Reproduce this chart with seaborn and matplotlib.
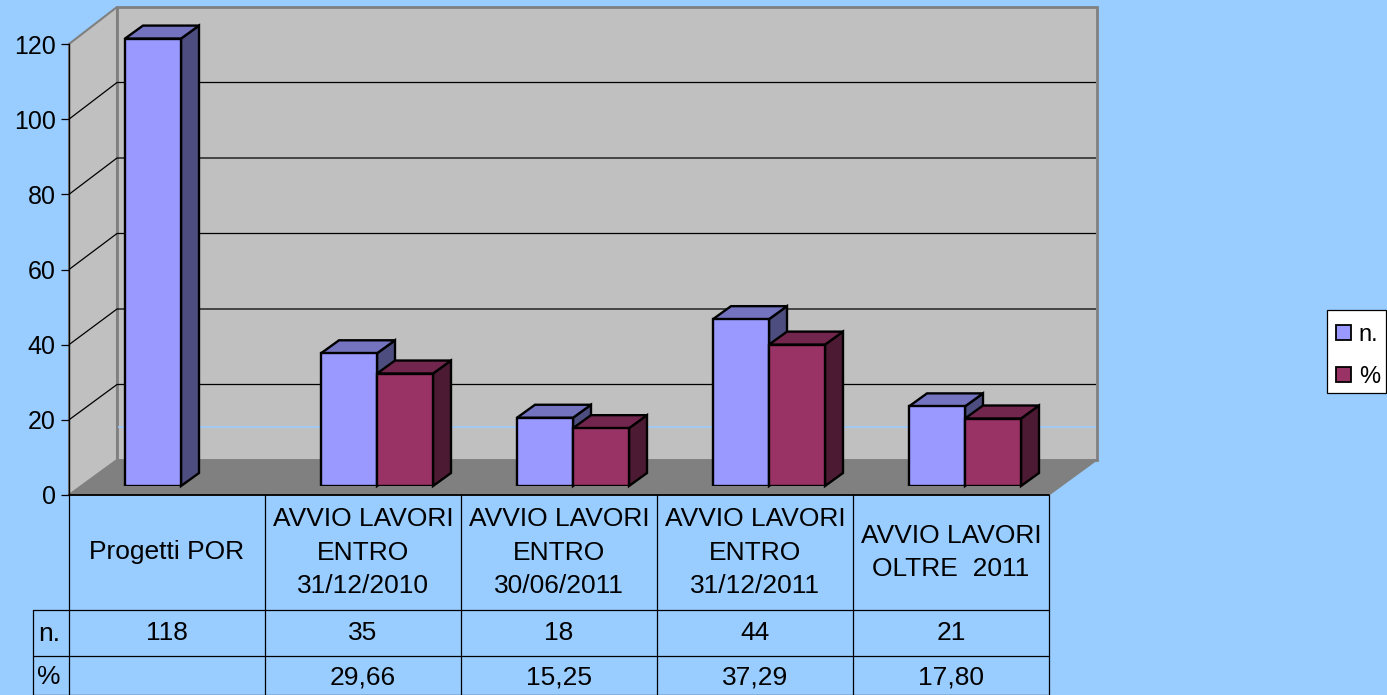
import numpy as np
import pandas as pd
import matplotlib.pyplot as plt
import seaborn as sns
from matplotlib.patches import Polygon, Patch, Rectangle
from matplotlib.transforms import Affine2D

categories = ['Progetti POR', 'AVVIO LAVORI\nENTRO\n31/12/2010', 'AVVIO LAVORI\nENTRO\n30/06/2011',
              'AVVIO LAVORI\nENTRO\n31/12/2011', 'AVVIO LAVORI\nOLTRE  2011']
n_values = [118, 35, 18, 44, 21]
pct_values = [np.nan, 29.66, 15.25, 37.29, 17.80]
n_labels = ['118', '35', '18', '44', '21']
pct_labels = ['', '29,66', '15,25', '37,29', '17,80']
tick_values = [0, 20, 40, 60, 80, 100, 120]
series_names = ['n.', '%']

W, H = 1387, 695
BG = '#99CCFF'
N_COL, PCT_COL = '#9999FF', '#993366'
FS = 19

# geometria in pixel del finto 3D
X0, X1 = 69, 1049
Y0, Y1 = 495, 44
WALL_DX = 48
WALL_Y0, WALL_Y1 = 460, 7
BAR_DX, BAR_DY = 14, 9
BAR_SPAN = 455  # le barre hanno una scala un po' piu' alta dell'asse
DEPTH_X, DEPTH_Y = 18, 13

sns.set_theme(style='white')
plt.rcParams['font.family'] = ['Liberation Sans', 'DejaVu Sans']

df = pd.DataFrame({
    'cat': categories * 2,
    'serie': [series_names[0]] * 5 + [series_names[1]] * 5,
    'val': n_values + pct_values,
})

fig = plt.figure(figsize=(W / 100, H / 100), dpi=100, facecolor=BG)


def rect(left, top, right, bottom):
    return [left / W, 1 - bottom / H, (right - left) / W, (bottom - top) / H]


# sfondo: pareti, pavimento e tabella in coordinate pixel
bg = fig.add_axes([0, 0, 1, 1], zorder=0)
bg.set_xlim(0, W)
bg.set_ylim(H, 0)
bg.axis('off')

wx0, wx1 = X0 + WALL_DX, X1 + WALL_DX
wy0, wy1 = WALL_Y0, WALL_Y1
GREY = '#808080'
bg.add_patch(Polygon([(wx0, wy1), (wx1, wy1), (wx1, wy0), (wx0, wy0)], fc='#C0C0C0', ec=GREY, lw=2))
bg.add_patch(Polygon([(X0, Y1), (wx0, wy1), (wx0, wy0), (X0, Y0)], fc='#C0C0C0', ec=GREY, lw=1.5))
bg.add_patch(Polygon([(X0, Y0), (wx0, wy0), (wx1, wy0), (X1, Y0)], fc=GREY, ec=GREY, lw=0.8))
bg.plot([wx0 + 1, wx1 - 1], [427, 427], color=BG, lw=1.1, solid_capstyle='butt')

for v in tick_values[1:-1]:
    y = Y0 - v * (Y0 - Y1) / 120
    y_back = wy0 - v * (wy0 - wy1) / 120
    bg.plot([X0, wx0, wx1 - 1], [y, y_back, y_back], color='black', lw=0.9, solid_capstyle='butt')

# tabella
col_w = (X1 - X0) / 5
edges = [X0 + i * col_w for i in range(6)]
for x in edges:
    bg.plot([x, x], [Y0, H], color='black', lw=0.9)
bg.plot([X0, X1], [Y0, Y0], color='black', lw=1.3)
bg.plot([33, X1], [610, 610], color='black', lw=0.9)
bg.plot([33, X1], [656, 656], color='black', lw=0.9)
bg.plot([33, 33], [610, H], color='black', lw=0.9)
bg.plot([33, X1], [H - 0.5, H - 0.5], color='black', lw=0.9)

for i, cat in enumerate(categories):
    cx = (edges[i] + edges[i + 1]) / 2
    bg.text(cx, 552.5, cat, ha='center', va='center', fontsize=FS, color='black', linespacing=1.5, multialignment='center')
    bg.text(cx, 633, n_labels[i], ha='center', va='center', fontsize=FS, color='black')
    bg.text(cx, 677, pct_labels[i], ha='center', va='center', fontsize=FS, color='black')
bg.text(49, 634, series_names[0], ha='center', va='center', fontsize=FS, color='black')
bg.text(49, 677, series_names[1], ha='center', va='center', fontsize=FS, color='black')

# riquadro della legenda
bg.add_patch(Rectangle((1327, 310), 59, 83, fc='white', ec='black', lw=0.9))

# asse y sul piano frontale
ax = fig.add_axes(rect(X0, Y1, X1, Y0), zorder=1)
ax.patch.set_visible(False)
ax.set_xlim(0, 1)
ax.set_ylim(0, 120)
ax.set_xticks([])
ax.set_yticks(tick_values)
ax.tick_params(axis='y', labelsize=18, length=6, width=0.9, pad=3.5, left=True, labelcolor='black', color='black')
for side in ['top', 'right', 'bottom']:
    ax.spines[side].set_visible(False)
ax.spines['left'].set_color('black')
ax.spines['left'].set_linewidth(1)

# barre: asse spostato sul pavimento
bar_ax = fig.add_axes(rect(X0 + BAR_DX, Y0 - BAR_DY - BAR_SPAN, X1 + BAR_DX, Y0 - BAR_DY), zorder=2)
sns.barplot(data=df, x='cat', y='val', hue='serie', hue_order=series_names, order=categories,
            palette=[N_COL, PCT_COL], width=56 * 2 / col_w, gap=0, edgecolor='black', linewidth=1.7,
            saturation=1, legend=False, ax=bar_ax)
bar_ax.set_xlim(-0.5, 4.5)
bar_ax.set_ylim(0, 120)
bar_ax.axis('off')

dark = {N_COL: ('#7373BF', '#4D4D80'), PCT_COL: ('#73264D', '#4D1A33')}
bars = [p for p in bar_ax.patches if p.get_height() > 0]
bars = sorted(bars, key=lambda p: p.get_x())
for i, p in enumerate(bars):
    x, w, h = p.get_x(), p.get_width(), p.get_height()
    col = N_COL if p.get_facecolor()[2] > 0.9 else PCT_COL
    top_col, side_col = dark[col]
    # punti del frontale in pixel, da li' le facce laterali
    (xa, y0), (xb, yt) = bar_ax.transData.transform([(x, 0), (x + w, h)])
    top = [(xa, yt), (xb, yt), (xb + DEPTH_X, yt + DEPTH_Y), (xa + DEPTH_X, yt + DEPTH_Y)]
    side = [(xb, y0), (xb + DEPTH_X, y0 + DEPTH_Y), (xb + DEPTH_X, yt + DEPTH_Y), (xb, yt)]
    for pts, c in [(side, side_col), (top, top_col)]:
        bar_ax.add_patch(Polygon(pts, closed=True, fc=c, ec='black', lw=1.7, joinstyle='miter',
                                 transform=Affine2D(), clip_on=False, zorder=3 * i + 2))
    p.set_zorder(3 * i + 3)
    p.set_joinstyle('miter')

# legenda
handles = [Patch(fc=N_COL, ec='black', lw=1.3), Patch(fc=PCT_COL, ec='black', lw=1.3)]
leg = fig.legend(handles, series_names, loc='upper left', bbox_to_anchor=(1327 / W, 1 - 315 / H),
                 fontsize=17, frameon=False, handlelength=0.62, handleheight=0.62, handletextpad=0.34,
                 labelspacing=0.85, borderpad=0.38, borderaxespad=0, labelcolor='black')
leg.set_zorder(5)

fig.savefig('out.png', dpi=100, facecolor=BG)
